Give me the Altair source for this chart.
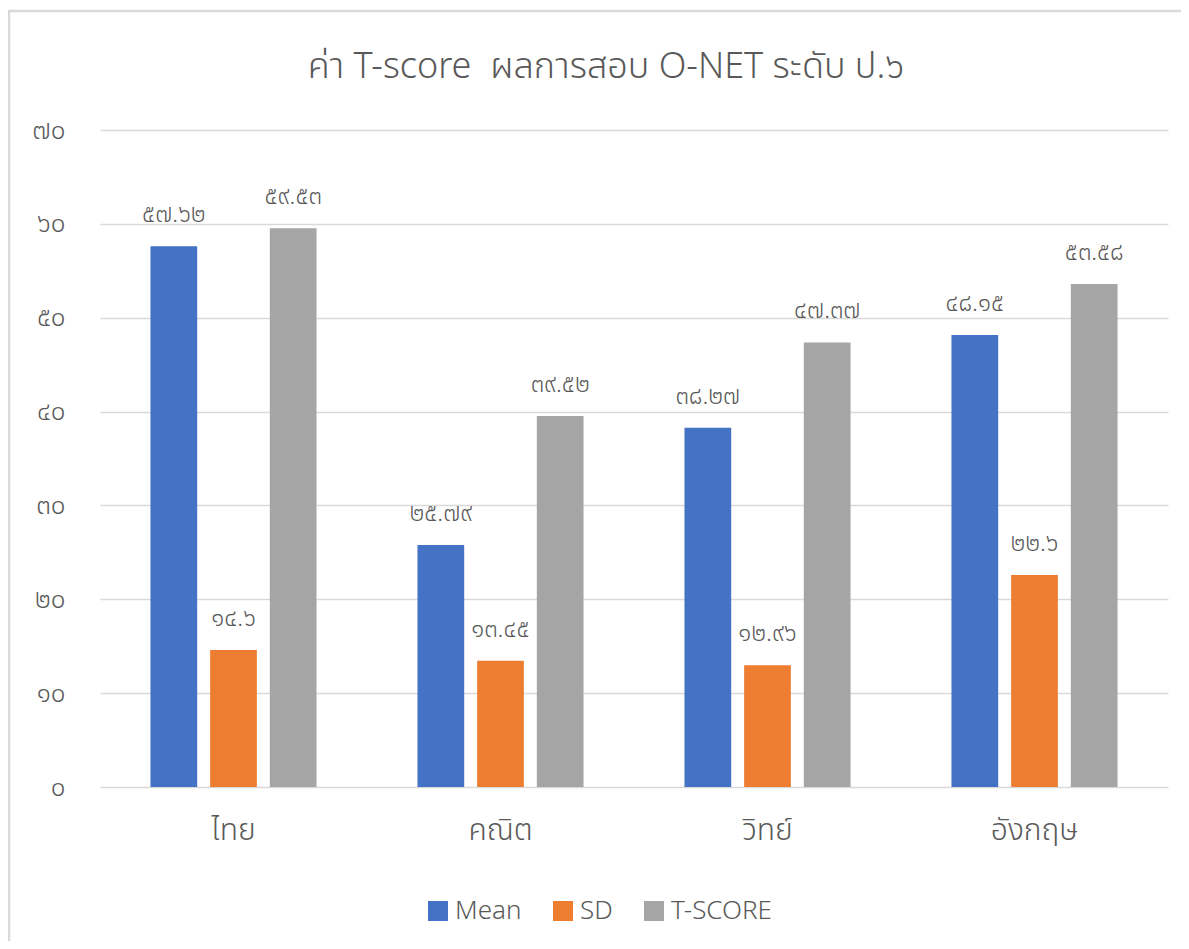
import altair as alt
import pandas as pd

categories = ["ไทย", "คณิต", "วิทย์", "อังกฤษ"]
series = ["Mean", "SD", "T-SCORE"]
mean_values = [57.62, 25.79, 38.27, 48.15]
sd_values = [14.6, 13.45, 12.96, 22.6]
tscore_values = [59.53, 39.52, 47.37, 53.58]
colors = ["#4472C4", "#ED7D31", "#A5A5A5"]
y_ticks = [0, 10, 20, 30, 40, 50, 60, 70]
y_tick_labels = ["๐", "๑๐", "๒๐", "๓๐", "๔๐", "๕๐", "๖๐", "๗๐"]
title_text = "ค่า T-score \u00a0ผลการสอบ O-NET ระดับ ป.๖"

THAI = str.maketrans("0123456789", "๐๑๒๓๔๕๖๗๘๙")

rows = []
for s, vals in zip(series, [mean_values, sd_values, tscore_values]):
    for c, v in zip(categories, vals):
        rows.append({"cat": c, "series": s, "value": v,
                     "label": f"{v:g}".translate(THAI)})
df = pd.DataFrame(rows)

FONT = "Leelawadee UI, Tahoma, Noto Sans Thai, Noto Sans, sans-serif"
GREY = "#595959"
W = 300

x_enc = alt.X("cat:N", sort=categories,
              scale=alt.Scale(paddingInner=0.378, paddingOuter=0.189),
              axis=alt.Axis(title=None, domain=False, ticks=False, labelAngle=0,
                            labelFontSize=30, labelColor=GREY, labelPadding=28,
                            labelFont=FONT, labelFontWeight=W))
xo_enc = alt.XOffset("series:N", sort=series,
                     scale=alt.Scale(paddingInner=0.217, paddingOuter=0))
y_enc = alt.Y("value:Q",
              scale=alt.Scale(domain=[0, 70], nice=False),
              axis=alt.Axis(title=None, domain=False, ticks=False, values=y_ticks,
                            labelExpr="%s[datum.value/10]" % str(y_tick_labels),
                            labelFontSize=26, labelColor=GREY, labelPadding=35,
                            labelFont=FONT, labelFontWeight=W,
                            gridColor="#d9d9d9", gridWidth=1.5))
color_enc = alt.Color("series:N", sort=series,
                      scale=alt.Scale(domain=series, range=colors),
                      legend=alt.Legend(title=None, orient="none", direction="horizontal",
                                        legendX=325, legendY=768,
                                        symbolType="square", symbolSize=400,
                                        symbolStrokeWidth=0,
                                        labelFontSize=26, labelColor=GREY,
                                        labelFont=FONT, labelFontWeight=W,
                                        columnPadding=28))

bars = alt.Chart(df).mark_bar().encode(x=x_enc, xOffset=xo_enc, y=y_enc, color=color_enc)
labels = alt.Chart(df).mark_text(dy=-31, fontSize=24, color=GREY, font=FONT,
                                 fontWeight=W, baseline="middle").encode(
    x=alt.X("cat:N", sort=categories), xOffset=alt.XOffset("series:N", sort=series),
    y="value:Q", text="label:N")

# light frame around the chart area and the chart title (decoration)
frame_src = pd.DataFrame({"k": [0]})
frame_left = alt.Chart(frame_src).mark_rule(color="#d9d9d9", strokeWidth=2.5, clip=False).encode(
    x=alt.value(-91), y=alt.value(-120), y2=alt.value(830))
frame_top = alt.Chart(frame_src).mark_rule(color="#d9d9d9", strokeWidth=2.5, clip=False).encode(
    y=alt.value(-119), x=alt.value(-92), x2=alt.value(1090))
title_mark = alt.Chart(pd.DataFrame({"t": [title_text]})).mark_text(
    fontSize=36, color=GREY, font=FONT, fontWeight=W, align="center",
    baseline="middle", clip=False).encode(
    x=alt.value(506), y=alt.value(-63), text="t:N")

chart = alt.layer(frame_left, frame_top, title_mark, bars, labels).properties(
    width=1068, height=657,
    padding={"left": 92, "top": 122, "right": 13, "bottom": 154},
    autosize=alt.AutoSizeParams(type="none"),
).configure(background="white").configure_view(stroke=None)

chart.save("out.html", embed_options={"renderer": "svg", "actions": False})
